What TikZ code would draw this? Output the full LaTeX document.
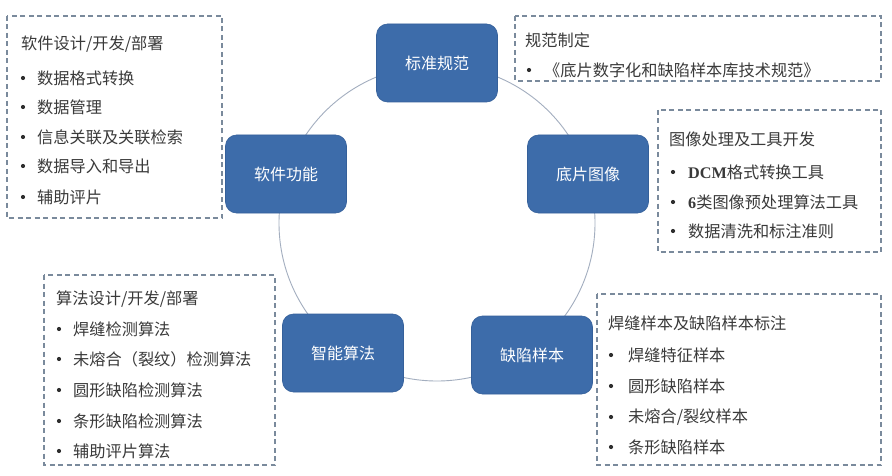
\documentclass[tikz,border=0pt]{standalone}
\usepackage{fontspec}
\setmainfont{Liberation Serif}
\newfontfamily\cjk{Noto Sans CJK SC}
\definecolor{nodeblue}{HTML}{3D6CAA}
\definecolor{nodeedge}{HTML}{35609A}
\definecolor{dashgray}{HTML}{7A8A9C}
\definecolor{ringgray}{HTML}{A3AEBF}
\definecolor{txtgray}{HTML}{3A3A3A}
\begin{document}
\begin{tikzpicture}[x=1pt,y=-1pt,
  hub/.style={draw=nodeedge,fill=nodeblue,rounded corners=11pt,minimum width=121pt,minimum height=78pt,text=white,font=\cjk\fontsize{16}{19}\selectfont,inner sep=0pt,line width=0.6pt},
  infobox/.style={draw=dashgray,dash pattern=on 5pt off 3.5pt,line width=1.3pt},
  title/.style={anchor=west,text=txtgray,font=\cjk\fontsize{16.2}{19}\selectfont,inner sep=0pt},
  item/.style={anchor=west,text=txtgray,font=\cjk\fontsize{16.2}{19}\selectfont,inner sep=0pt},
  dot/.style={circle,fill=txtgray!80!black,inner sep=0pt,minimum size=4.2pt}]
\useasboundingbox (0,0) rectangle (892,476);
\fill[white] (0,0) rectangle (892,476);
% ring
\coordinate (ctr) at (437,223);
\draw[ringgray,line width=0.9pt] (ctr) circle[radius=158];
% hubs
\node[hub] (std) at (437,63) {标准规范};
\node[hub] (img) at (588,174) {底片图像};
\node[hub] (sw) at (286,174) {软件功能};
\node[hub] (alg) at (343,353) {智能算法};
\node[hub] (smp) at (532,355) {缺陷样本};
% box 1 top-left
\draw[infobox] (7,16) rectangle (222,218);
\node[title] (t1) at (21,44) {软件设计/开发/部署};
\foreach \y/\t [count=\i] in {78/数据格式转换,107/数据管理,137/信息关联及关联检索,166/数据导入和导出,197/辅助评片}{
  \node[dot] (b1\i) at (23,\y) {};
  \node[item] (i1\i) at (37,\y) {\t};
}
% box 2 top-right
\draw[infobox] (515,16) rectangle (881,81);
\node[title] (t2) at (525,40) {规范制定};
\node[dot] (b21) at (529,70) {};
\node[item] (i21) at (544,70) {《底片数字化和缺陷样本库技术规范》};
% box 3 right middle
\draw[infobox] (658,110) rectangle (881,252);
\node[title] (t3) at (669,139) {图像处理及工具开发};
\node[dot] (b31) at (673,172) {};
\node[item] (i31) at (688,172) {{\fontspec{Liberation Serif}\bfseries DCM}格式转换工具};
\node[dot] (b32) at (673,202) {};
\node[item] (i32) at (688,202) {{\fontspec{Liberation Serif}\bfseries 6}类图像预处理算法工具};
\node[dot] (b33) at (673,231) {};
\node[item] (i33) at (688,231) {数据清洗和标注准则};
% box 4 bottom-left
\draw[infobox] (44,275) rectangle (275,465);
\node[title] (t4) at (56,299) {算法设计/开发/部署};
\foreach \y/\t [count=\i] in {329/焊缝检测算法,359/未熔合（裂纹）检测算法,390/圆形缺陷检测算法,421/条形缺陷检测算法,451/辅助评片算法}{
  \node[dot] (b4\i) at (59,\y) {};
  \node[item] (i4\i) at (73,\y) {\t};
}
% box 5 bottom-right
\draw[infobox] (597,294) rectangle (881,465);
\node[title] (t5) at (608,323) {焊缝样本及缺陷样本标注};
\foreach \y/\t [count=\i] in {355/焊缝特征样本,386/圆形缺陷样本,417/{未熔合/裂纹样本},447/条形缺陷样本}{
  \node[dot] (b5\i) at (611,\y) {};
  \node[item] (i5\i) at (628,\y) {\t};
}
\end{tikzpicture}
\end{document}
